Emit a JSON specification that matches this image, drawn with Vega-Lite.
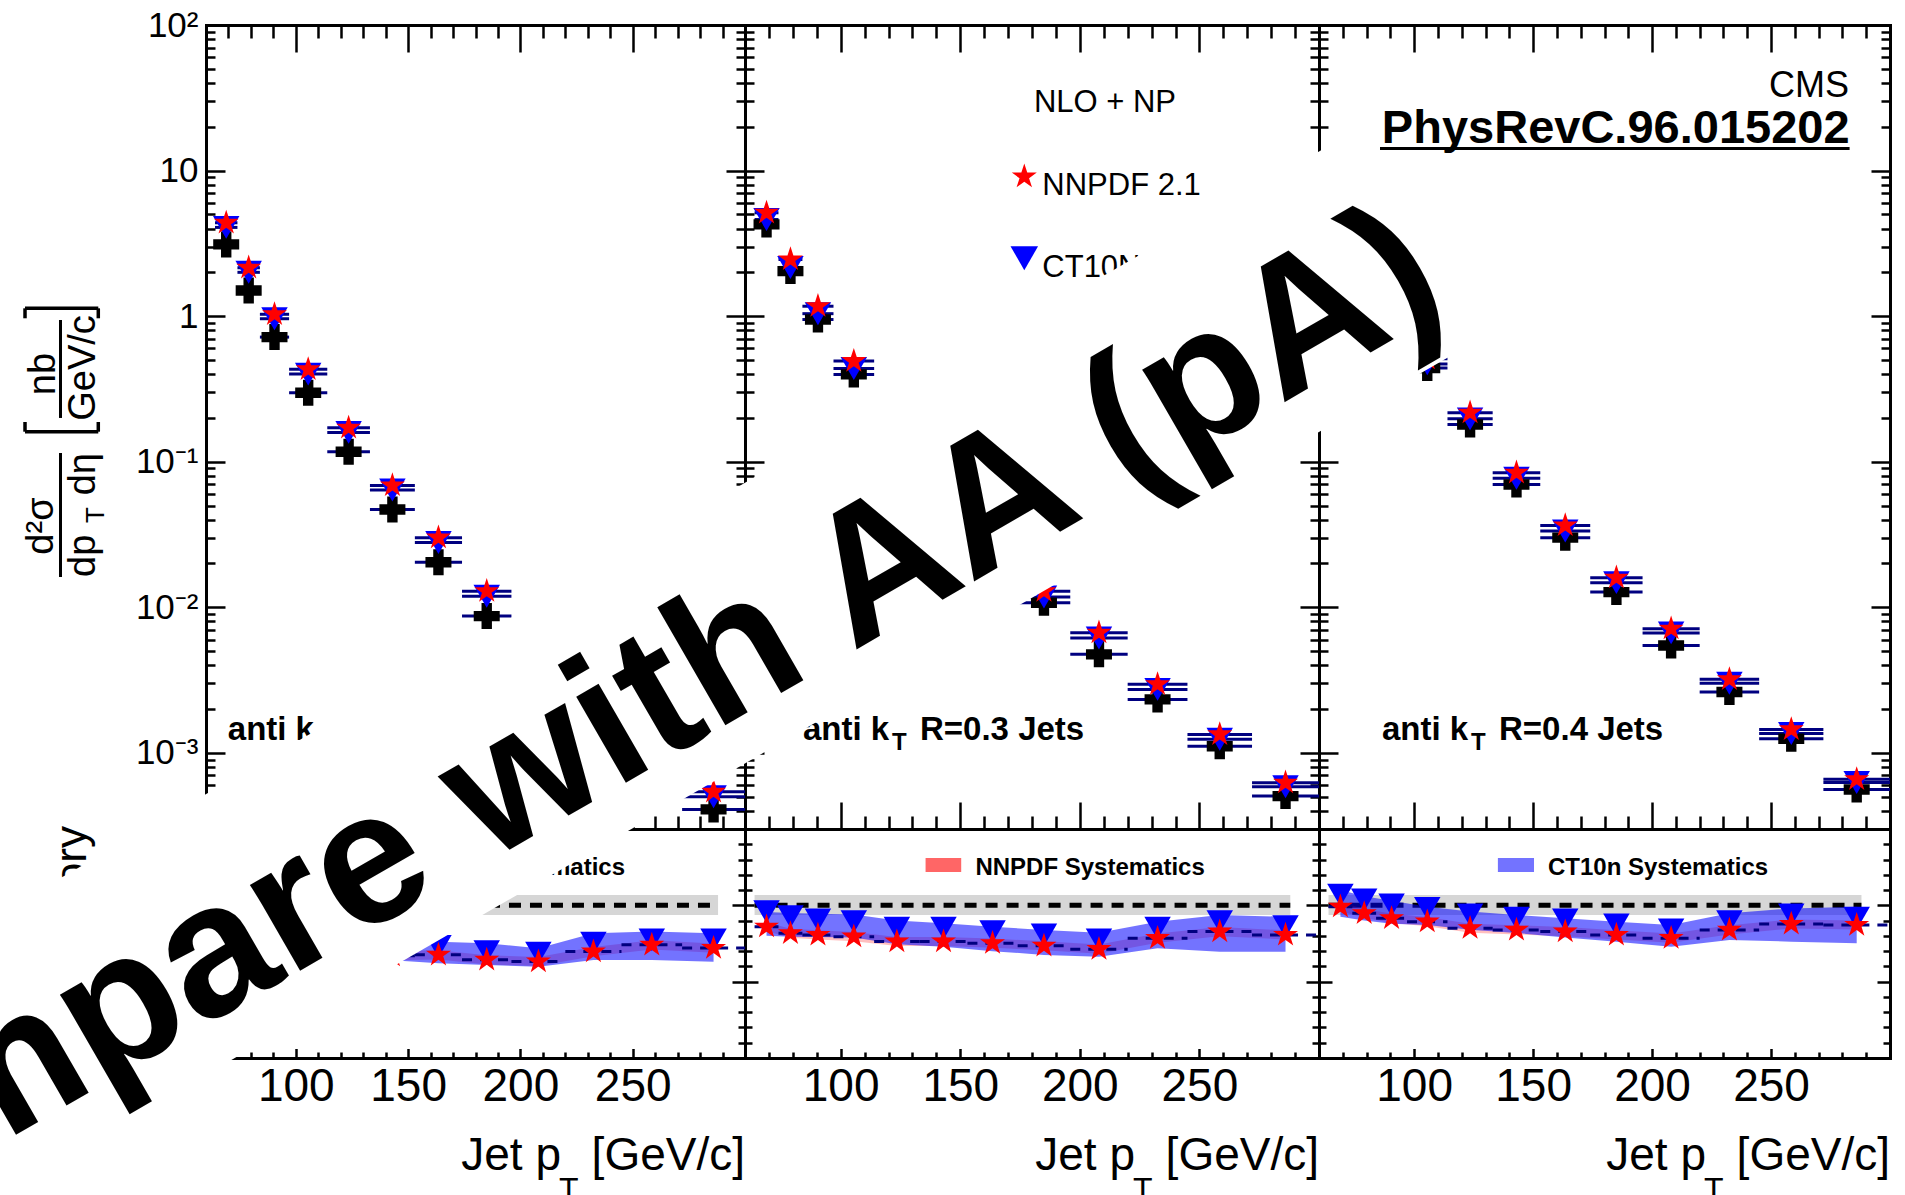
{
"$schema": "https://vega.github.io/schema/vega-lite/v6.json",
"width": 1905, "height": 1195,
"autosize": {"type": "none"},
"padding": 0,
"background": "white",
"config": {
  "view": {"stroke": null},
  "axis": {"grid": false, "domain": true, "ticks": true, "domainColor": "black", "domainWidth": 3, "domainCap": "square", "tickColor": "black", "tickWidth": 2.5, "labelFont": "Liberation Sans", "labelColor": "black", "labelOverlap": false, "labelFlush": false},
  "text": {"font": "Liberation Sans", "color": "black"}
},
"datasets": {
  "pts": [
    {"p":1,"pt":69,"lo":64,"hi":74,"data":3.11,"nn":4.38,"ct":4.07},
    {"p":1,"pt":79,"lo":74,"hi":84,"data":1.50,"nn":2.15,"ct":2.00},
    {"p":1,"pt":90.5,"lo":84,"hi":97,"data":0.718,"nn":1.03,"ct":0.96},
    {"p":1,"pt":105.5,"lo":97,"hi":114,"data":0.298,"nn":0.431,"ct":0.40},
    {"p":1,"pt":123.5,"lo":114,"hi":133,"data":0.117,"nn":0.171,"ct":0.159},
    {"p":1,"pt":143,"lo":133,"hi":153,"data":0.047,"nn":0.0687,"ct":0.064},
    {"p":1,"pt":163.5,"lo":153,"hi":174,"data":0.0204,"nn":0.0301,"ct":0.0279},
    {"p":1,"pt":185,"lo":174,"hi":196,"data":0.0087,"nn":0.0129,"ct":0.0119},
    {"p":1,"pt":286,"lo":272,"hi":300,"data":0.000409,"nn":0.00054,"ct":0.0005},
    {"p":2,"pt":69,"lo":64,"hi":74,"data":4.27,"nn":5.13,"ct":4.61},
    {"p":2,"pt":79,"lo":74,"hi":84,"data":2.04,"nn":2.45,"ct":2.16},
    {"p":2,"pt":90.5,"lo":84,"hi":97,"data":0.948,"nn":1.17,"ct":1.04},
    {"p":2,"pt":105.5,"lo":97,"hi":114,"data":0.398,"nn":0.491,"ct":0.437},
    {"p":2,"pt":185,"lo":174,"hi":196,"data":0.01075,"nn":0.0129,"ct":0.01177},
    {"p":2,"pt":208,"lo":196,"hi":220,"data":0.00475,"nn":0.00669,"ct":0.00616},
    {"p":2,"pt":232.5,"lo":220,"hi":245,"data":0.00233,"nn":0.00296,"ct":0.00273},
    {"p":2,"pt":258.5,"lo":245,"hi":272,"data":0.00111,"nn":0.00134,"ct":0.00124},
    {"p":2,"pt":286,"lo":272,"hi":300,"data":0.000505,"nn":0.000624,"ct":0.000585},
    {"p":3,"pt":105.5,"lo":97,"hi":114,"data":0.44,"nn":0.51,"ct":0.47},
    {"p":3,"pt":123.5,"lo":114,"hi":133,"data":0.180,"nn":0.217,"ct":0.197},
    {"p":3,"pt":143,"lo":133,"hi":153,"data":0.0698,"nn":0.084,"ct":0.077},
    {"p":3,"pt":163.5,"lo":153,"hi":174,"data":0.0301,"nn":0.0365,"ct":0.0334},
    {"p":3,"pt":185,"lo":174,"hi":196,"data":0.01272,"nn":0.01596,"ct":0.01477},
    {"p":3,"pt":208,"lo":196,"hi":220,"data":0.00547,"nn":0.00713,"ct":0.00667},
    {"p":3,"pt":232.5,"lo":220,"hi":245,"data":0.00262,"nn":0.0032,"ct":0.00301},
    {"p":3,"pt":258.5,"lo":245,"hi":272,"data":0.00125,"nn":0.00145,"ct":0.00136},
    {"p":3,"pt":286,"lo":272,"hi":300,"data":0.000561,"nn":0.000658,"ct":0.000626}
  ],
  "rat": [
    {"p":1,"pt":143,"lo":133,"hi":153,"rn":0.67,"rc":0.72,"cLo":0.64,"cHi":0.74,"nLo":0.64,"nHi":0.70},
    {"p":1,"pt":163.5,"lo":153,"hi":174,"rn":0.676,"rc":0.73,"cLo":0.62,"cHi":0.762,"nLo":0.646,"nHi":0.706},
    {"p":1,"pt":185,"lo":174,"hi":196,"rn":0.643,"rc":0.697,"cLo":0.609,"cHi":0.752,"nLo":0.613,"nHi":0.673},
    {"p":1,"pt":208,"lo":196,"hi":220,"rn":0.632,"rc":0.687,"cLo":0.598,"cHi":0.719,"nLo":0.602,"nHi":0.662},
    {"p":1,"pt":232.5,"lo":220,"hi":245,"rn":0.697,"rc":0.752,"cLo":0.642,"cHi":0.817,"nLo":0.667,"nHi":0.727},
    {"p":1,"pt":258.5,"lo":245,"hi":272,"rn":0.741,"rc":0.774,"cLo":0.642,"cHi":0.828,"nLo":0.711,"nHi":0.771},
    {"p":1,"pt":286,"lo":272,"hi":300,"rn":0.72,"rc":0.774,"cLo":0.631,"cHi":0.817,"nLo":0.69,"nHi":0.75},
    {"p":2,"pt":69,"lo":64,"hi":74,"rn":0.86,"rc":0.958,"cLo":0.80,"cHi":0.956,"nLo":0.83,"nHi":0.89},
    {"p":2,"pt":79,"lo":74,"hi":84,"rn":0.817,"rc":0.926,"cLo":0.795,"cHi":0.95,"nLo":0.787,"nHi":0.847},
    {"p":2,"pt":90.5,"lo":84,"hi":97,"rn":0.806,"rc":0.904,"cLo":0.793,"cHi":0.945,"nLo":0.776,"nHi":0.836},
    {"p":2,"pt":105.5,"lo":97,"hi":114,"rn":0.795,"rc":0.893,"cLo":0.79,"cHi":0.94,"nLo":0.765,"nHi":0.825},
    {"p":2,"pt":123.5,"lo":114,"hi":133,"rn":0.763,"rc":0.85,"cLo":0.745,"cHi":0.90,"nLo":0.733,"nHi":0.793},
    {"p":2,"pt":143,"lo":133,"hi":153,"rn":0.763,"rc":0.85,"cLo":0.729,"cHi":0.883,"nLo":0.733,"nHi":0.793},
    {"p":2,"pt":163.5,"lo":153,"hi":174,"rn":0.752,"rc":0.828,"cLo":0.70,"cHi":0.86,"nLo":0.722,"nHi":0.782},
    {"p":2,"pt":185,"lo":174,"hi":196,"rn":0.735,"rc":0.806,"cLo":0.675,"cHi":0.838,"nLo":0.705,"nHi":0.765},
    {"p":2,"pt":208,"lo":196,"hi":220,"rn":0.713,"rc":0.774,"cLo":0.664,"cHi":0.82,"nLo":0.683,"nHi":0.743},
    {"p":2,"pt":232.5,"lo":220,"hi":245,"rn":0.785,"rc":0.85,"cLo":0.719,"cHi":0.893,"nLo":0.755,"nHi":0.815},
    {"p":2,"pt":258.5,"lo":245,"hi":272,"rn":0.828,"rc":0.893,"cLo":0.696,"cHi":0.937,"nLo":0.798,"nHi":0.858},
    {"p":2,"pt":286,"lo":272,"hi":300,"rn":0.806,"rc":0.86,"cLo":0.696,"cHi":0.925,"nLo":0.776,"nHi":0.836},
    {"p":3,"pt":69,"lo":64,"hi":74,"rn":0.991,"rc":1.067,"cLo":0.925,"cHi":1.10,"nLo":0.961,"nHi":1.021},
    {"p":3,"pt":79,"lo":74,"hi":84,"rn":0.948,"rc":1.035,"cLo":0.90,"cHi":1.06,"nLo":0.918,"nHi":0.978},
    {"p":3,"pt":90.5,"lo":84,"hi":97,"rn":0.915,"rc":1.002,"cLo":0.88,"cHi":1.03,"nLo":0.885,"nHi":0.945},
    {"p":3,"pt":105.5,"lo":97,"hi":114,"rn":0.893,"rc":0.98,"cLo":0.871,"cHi":0.99,"nLo":0.863,"nHi":0.923},
    {"p":3,"pt":123.5,"lo":114,"hi":133,"rn":0.85,"rc":0.937,"cLo":0.84,"cHi":0.96,"nLo":0.82,"nHi":0.88},
    {"p":3,"pt":143,"lo":133,"hi":153,"rn":0.839,"rc":0.915,"cLo":0.819,"cHi":0.937,"nLo":0.809,"nHi":0.869},
    {"p":3,"pt":163.5,"lo":153,"hi":174,"rn":0.828,"rc":0.904,"cLo":0.79,"cHi":0.915,"nLo":0.798,"nHi":0.858},
    {"p":3,"pt":185,"lo":174,"hi":196,"rn":0.806,"rc":0.871,"cLo":0.762,"cHi":0.893,"nLo":0.776,"nHi":0.836},
    {"p":3,"pt":208,"lo":196,"hi":220,"rn":0.785,"rc":0.839,"cLo":0.729,"cHi":0.871,"nLo":0.755,"nHi":0.815},
    {"p":3,"pt":232.5,"lo":220,"hi":245,"rn":0.839,"rc":0.893,"cLo":0.773,"cHi":0.948,"nLo":0.809,"nHi":0.869},
    {"p":3,"pt":258.5,"lo":245,"hi":272,"rn":0.878,"rc":0.937,"cLo":0.762,"cHi":0.98,"nLo":0.848,"nHi":0.908},
    {"p":3,"pt":286,"lo":272,"hi":300,"rn":0.871,"rc":0.915,"cLo":0.751,"cHi":0.991,"nLo":0.841,"nHi":0.901}
  ],
  "ref": [
    {"p":1,"pt":64,"lo":0.937,"hi":1.068,"r":1},{"p":1,"pt":288,"lo":0.937,"hi":1.068,"r":1},
    {"p":2,"pt":64,"lo":0.937,"hi":1.068,"r":1},{"p":2,"pt":288,"lo":0.937,"hi":1.068,"r":1},
    {"p":3,"pt":64,"lo":0.937,"hi":1.068,"r":1},{"p":3,"pt":288,"lo":0.937,"hi":1.068,"r":1}
  ]
},
"layer": [
{
 "data": {"name": "pts"},
 "layer": [
  {"transform": [{"filter": "datum.p == 1"}], "mark": {"type": "rule", "color": "#000080", "strokeWidth": 3},
   "encoding": {
    "x": {"field": "lo", "type": "quantitative", "scale": {"domain": [60, 300], "range": [206, 745], "nice": false, "zero": false},
          "axis": {"orient": "bottom", "offset": -366, "values": [70,80,90,100,110,120,130,140,150,160,170,180,190,200,210,220,230,240,250,260,270,280,290], "tickSize": {"condition": {"test": "datum.value % 50 == 0", "value": -27}, "value": -13}, "labels": false, "title": null}},
    "x2": {"field": "hi"},
    "y": {"field": "nn", "type": "quantitative", "scale": {"type": "log", "domain": [0.0003, 100], "range": [829, 25], "nice": false},
          "axis": {"orient": "left", "offset": -206, "values": [0.0004,0.0005,0.0006,0.0007,0.0008,0.0009,0.001,0.002,0.003,0.004,0.005,0.006,0.007,0.008,0.009,0.01,0.02,0.03,0.04,0.05,0.06,0.07,0.08,0.09,0.1,0.2,0.3,0.4,0.5,0.6,0.7,0.8,0.9,1,2,3,4,5,6,7,8,9,10,20,30,40,50,60,70,80,90,100], "tickSize": {"condition": {"test": "abs(log(datum.value)/LN10 - round(log(datum.value)/LN10)) < 0.01", "value": -19}, "value": -9}, "labelExpr": "abs(log(datum.value)/LN10 - round(log(datum.value)/LN10)) < 0.01 ? (round(log(datum.value)/LN10) == 2 ? '10²' : round(log(datum.value)/LN10) == 1 ? '10' : round(log(datum.value)/LN10) == 0 ? '1' : round(log(datum.value)/LN10) == -1 ? '10⁻¹' : round(log(datum.value)/LN10) == -2 ? '10⁻²' : '10⁻³') : ''", "labelFontSize": 35, "labelPadding": 27, "labelBaseline": "middle", "title": null}}
   }},
  {"transform": [{"filter": "datum.p == 1"}], "mark": {"type": "rule", "color": "#000080", "strokeWidth": 3},
   "encoding": {
    "x": {"field": "lo", "type": "quantitative", "axis": {"orient": "top", "offset": -25, "values": [70,80,90,100,110,120,130,140,150,160,170,180,190,200,210,220,230,240,250,260,270,280,290], "tickSize": {"condition": {"test": "datum.value % 50 == 0", "value": -27}, "value": -13}, "labels": false, "title": null}},
    "x2": {"field": "hi"},
    "y": {"field": "ct", "type": "quantitative", "axis": {"orient": "right", "offset": -1160, "values": [0.0004,0.0005,0.0006,0.0007,0.0008,0.0009,0.001,0.002,0.003,0.004,0.005,0.006,0.007,0.008,0.009,0.01,0.02,0.03,0.04,0.05,0.06,0.07,0.08,0.09,0.1,0.2,0.3,0.4,0.5,0.6,0.7,0.8,0.9,1,2,3,4,5,6,7,8,9,10,20,30,40,50,60,70,80,90,100], "tickSize": {"condition": {"test": "abs(log(datum.value)/LN10 - round(log(datum.value)/LN10)) < 0.01", "value": -19}, "value": -9}, "labels": false, "title": null}}
   }},
  {"transform": [{"filter": "datum.p == 1"}], "mark": {"type": "rule", "color": "#000080", "strokeWidth": 3},
   "encoding": {"x": {"field": "lo", "type": "quantitative", "axis": null}, "x2": {"field": "hi"}, "y": {"field": "data", "type": "quantitative", "axis": null}}},
  {"transform": [{"filter": "datum.p == 1"}], "mark": {"type": "point", "shape": "cross", "filled": true, "color": "black", "size": 676, "opacity": 1},
   "encoding": {"x": {"field": "pt", "type": "quantitative", "axis": null}, "y": {"field": "data", "type": "quantitative", "axis": null}}},
  {"transform": [{"filter": "datum.p == 1"}], "mark": {"type": "point", "shape": "triangle-down", "filled": true, "color": "#0000ff", "size": 700, "opacity": 1},
   "encoding": {"x": {"field": "pt", "type": "quantitative", "axis": null}, "y": {"field": "ct", "type": "quantitative", "axis": null}}},
  {"transform": [{"filter": "datum.p == 1"}], "mark": {"type": "point", "shape": "M0,-1L0.2245,-0.309L0.9511,-0.309L0.3633,0.118L0.5878,0.809L0,0.382L-0.5878,0.809L-0.3633,0.118L-0.9511,-0.309L-0.2245,-0.309Z", "filled": true, "color": "#ff0000", "size": 690, "opacity": 1},
   "encoding": {"x": {"field": "pt", "type": "quantitative", "axis": null}, "y": {"field": "nn", "type": "quantitative", "axis": null}}},
  {"data": {"values": [{"p": 1}]}, "mark": {"type": "text", "text": "d²σ", "fontSize": 38, "align": "center", "baseline": "alphabetic", "angle": -90},
   "encoding": {"x": {"datum": -8.13, "axis": null}, "y": {"datum": 0.03618, "axis": null}}},
  {"data": {"values": [{"p": 1}]}, "mark": {"type": "rule", "color": "black", "strokeWidth": 3},
   "encoding": {"x": {"datum": -4.79, "axis": null}, "y": {"datum": 0.1148, "axis": null}, "y2": {"datum": 0.01615}}},
  {"data": {"values": [{"p": 1}]}, "mark": {"type": "text", "text": "dp", "fontSize": 38, "align": "left", "baseline": "alphabetic", "angle": -90},
   "encoding": {"x": {"datum": 10.57, "axis": null}, "y": {"datum": 0.01615, "axis": null}}},
  {"data": {"values": [{"p": 1}]}, "mark": {"type": "text", "text": "T", "fontSize": 26, "align": "center", "baseline": "alphabetic", "angle": -90},
   "encoding": {"x": {"datum": 14.58, "axis": null}, "y": {"datum": 0.04306, "axis": null}}},
  {"data": {"values": [{"p": 1}]}, "mark": {"type": "text", "text": "dη", "fontSize": 38, "align": "right", "baseline": "alphabetic", "angle": -90},
   "encoding": {"x": {"datum": 10.57, "axis": null}, "y": {"datum": 0.1148, "axis": null}}},
  {"data": {"values": [{"p": 1}]}, "mark": {"type": "text", "text": "nb", "fontSize": 38, "align": "center", "baseline": "alphabetic", "angle": -90},
   "encoding": {"x": {"datum": -7.24, "axis": null}, "y": {"datum": 0.4006, "axis": null}}},
  {"data": {"values": [{"p": 1}]}, "mark": {"type": "rule", "color": "black", "strokeWidth": 3},
   "encoding": {"x": {"datum": -4.79, "axis": null}, "y": {"datum": 0.941, "axis": null}, "y2": {"datum": 0.1998}}},
  {"data": {"values": [{"p": 1}]}, "mark": {"type": "text", "text": "GeV/c", "fontSize": 38, "align": "center", "baseline": "alphabetic", "angle": -90},
   "encoding": {"x": {"datum": 10.57, "axis": null}, "y": {"datum": 0.4405, "axis": null}}},
  {"data": {"values": [{"p": 1}]}, "mark": {"type": "rule", "color": "black", "strokeWidth": 3.5},
   "encoding": {"x": {"datum": -20.59, "axis": null}, "x2": {"datum": 12.04}, "y": {"datum": 1.132, "axis": null}}},
  {"data": {"values": [{"p": 1}]}, "mark": {"type": "rule", "color": "black", "strokeWidth": 3.5},
   "encoding": {"x": {"datum": -20.59, "axis": null}, "y": {"datum": 1.132, "axis": null}, "y2": {"datum": 0.9667}}},
  {"data": {"values": [{"p": 1}]}, "mark": {"type": "rule", "color": "black", "strokeWidth": 3.5},
   "encoding": {"x": {"datum": 12.04, "axis": null}, "y": {"datum": 1.132, "axis": null}, "y2": {"datum": 0.9667}}},
  {"data": {"values": [{"p": 1}]}, "mark": {"type": "rule", "color": "black", "strokeWidth": 3.5},
   "encoding": {"x": {"datum": -20.59, "axis": null}, "x2": {"datum": 12.04}, "y": {"datum": 0.1608, "axis": null}}},
  {"data": {"values": [{"p": 1}]}, "mark": {"type": "rule", "color": "black", "strokeWidth": 3.5},
   "encoding": {"x": {"datum": -20.59, "axis": null}, "y": {"datum": 0.1608, "axis": null}, "y2": {"datum": 0.1875}}},
  {"data": {"values": [{"p": 1}]}, "mark": {"type": "rule", "color": "black", "strokeWidth": 3.5},
   "encoding": {"x": {"datum": 12.04, "axis": null}, "y": {"datum": 0.1608, "axis": null}, "y2": {"datum": 0.1875}}},
  {"data": {"values": [{"p": 1}]}, "mark": {"type": "text", "text": "anti k", "fontSize": 33, "fontWeight": "bold", "align": "left", "baseline": "alphabetic"},
   "encoding": {"x": {"datum": 69.7, "axis": null}, "y": {"datum": 0.001226, "axis": null}}},
  {"data": {"values": [{"p": 1}]}, "mark": {"type": "text", "text": "T", "fontSize": 24, "fontWeight": "bold", "align": "left", "baseline": "alphabetic"},
   "encoding": {"x": {"datum": 109.34, "axis": null}, "y": {"datum": 0.001047, "axis": null}}},
  {"data": {"values": [{"p": 1}]}, "mark": {"type": "text", "text": "R=0.2 Jets", "fontSize": 33, "fontWeight": "bold", "align": "left", "baseline": "alphabetic"},
   "encoding": {"x": {"datum": 121.8, "axis": null}, "y": {"datum": 0.001226, "axis": null}}}
 ],
 "resolve": {"axis": {"x": "independent", "y": "independent"}}
},
{
 "data": {"name": "pts"},
 "layer": [
  {"transform": [{"filter": "datum.p == 2"}], "mark": {"type": "rule", "color": "#000080", "strokeWidth": 3},
   "encoding": {
    "x": {"field": "lo", "type": "quantitative", "scale": {"domain": [60, 300], "range": [745, 1319], "nice": false, "zero": false},
          "axis": {"orient": "bottom", "offset": -366, "values": [70,80,90,100,110,120,130,140,150,160,170,180,190,200,210,220,230,240,250,260,270,280,290], "tickSize": {"condition": {"test": "datum.value % 50 == 0", "value": -27}, "value": -13}, "labels": false, "title": null}},
    "x2": {"field": "hi"},
    "y": {"field": "nn", "type": "quantitative", "scale": {"type": "log", "domain": [0.0003, 100], "range": [829, 25], "nice": false},
          "axis": {"orient": "left", "offset": -745, "values": [0.0004,0.0005,0.0006,0.0007,0.0008,0.0009,0.001,0.002,0.003,0.004,0.005,0.006,0.007,0.008,0.009,0.01,0.02,0.03,0.04,0.05,0.06,0.07,0.08,0.09,0.1,0.2,0.3,0.4,0.5,0.6,0.7,0.8,0.9,1,2,3,4,5,6,7,8,9,10,20,30,40,50,60,70,80,90,100], "tickSize": {"condition": {"test": "abs(log(datum.value)/LN10 - round(log(datum.value)/LN10)) < 0.01", "value": -19}, "value": -9}, "labels": false, "title": null}}
   }},
  {"transform": [{"filter": "datum.p == 2"}], "mark": {"type": "rule", "color": "#000080", "strokeWidth": 3},
   "encoding": {
    "x": {"field": "lo", "type": "quantitative", "axis": {"orient": "top", "offset": -25, "values": [70,80,90,100,110,120,130,140,150,160,170,180,190,200,210,220,230,240,250,260,270,280,290], "tickSize": {"condition": {"test": "datum.value % 50 == 0", "value": -27}, "value": -13}, "labels": false, "title": null}},
    "x2": {"field": "hi"},
    "y": {"field": "ct", "type": "quantitative", "axis": {"orient": "right", "offset": -586, "values": [0.0004,0.0005,0.0006,0.0007,0.0008,0.0009,0.001,0.002,0.003,0.004,0.005,0.006,0.007,0.008,0.009,0.01,0.02,0.03,0.04,0.05,0.06,0.07,0.08,0.09,0.1,0.2,0.3,0.4,0.5,0.6,0.7,0.8,0.9,1,2,3,4,5,6,7,8,9,10,20,30,40,50,60,70,80,90,100], "tickSize": {"condition": {"test": "abs(log(datum.value)/LN10 - round(log(datum.value)/LN10)) < 0.01", "value": -19}, "value": -9}, "labels": false, "title": null}}
   }},
  {"transform": [{"filter": "datum.p == 2"}], "mark": {"type": "rule", "color": "#000080", "strokeWidth": 3},
   "encoding": {"x": {"field": "lo", "type": "quantitative", "axis": null}, "x2": {"field": "hi"}, "y": {"field": "data", "type": "quantitative", "axis": null}}},
  {"transform": [{"filter": "datum.p == 2"}], "mark": {"type": "point", "shape": "cross", "filled": true, "color": "black", "size": 676, "opacity": 1},
   "encoding": {"x": {"field": "pt", "type": "quantitative", "axis": null}, "y": {"field": "data", "type": "quantitative", "axis": null}}},
  {"transform": [{"filter": "datum.p == 2"}], "mark": {"type": "point", "shape": "triangle-down", "filled": true, "color": "#0000ff", "size": 700, "opacity": 1},
   "encoding": {"x": {"field": "pt", "type": "quantitative", "axis": null}, "y": {"field": "ct", "type": "quantitative", "axis": null}}},
  {"transform": [{"filter": "datum.p == 2"}], "mark": {"type": "point", "shape": "M0,-1L0.2245,-0.309L0.9511,-0.309L0.3633,0.118L0.5878,0.809L0,0.382L-0.5878,0.809L-0.3633,0.118L-0.9511,-0.309L-0.2245,-0.309Z", "filled": true, "color": "#ff0000", "size": 690, "opacity": 1},
   "encoding": {"x": {"field": "pt", "type": "quantitative", "axis": null}, "y": {"field": "nn", "type": "quantitative", "axis": null}}},
  {"data": {"values": [{"p": 2}]}, "mark": {"type": "text", "text": "NLO + NP", "fontSize": 31, "align": "left", "baseline": "alphabetic"},
   "encoding": {"x": {"datum": 180.8, "axis": null}, "y": {"datum": 25.4, "axis": null}}},
  {"data": {"values": [{"p": 2}]}, "mark": {"type": "point", "shape": "M0,-1L0.2245,-0.309L0.9511,-0.309L0.3633,0.118L0.5878,0.809L0,0.382L-0.5878,0.809L-0.3633,0.118L-0.9511,-0.309L-0.2245,-0.309Z", "filled": true, "color": "#ff0000", "size": 690, "opacity": 1},
   "encoding": {"x": {"datum": 176.78, "axis": null}, "y": {"datum": 9.08, "axis": null}}},
  {"data": {"values": [{"p": 2}]}, "mark": {"type": "text", "text": "NNPDF 2.1", "fontSize": 31, "align": "left", "baseline": "alphabetic"},
   "encoding": {"x": {"datum": 184.31, "axis": null}, "y": {"datum": 6.8, "axis": null}}},
  {"data": {"values": [{"p": 2}]}, "mark": {"type": "point", "shape": "triangle-down", "filled": true, "color": "#0000ff", "size": 760, "opacity": 1},
   "encoding": {"x": {"datum": 176.78, "axis": null}, "y": {"datum": 2.5, "axis": null}}},
  {"data": {"values": [{"p": 2}]}, "mark": {"type": "text", "text": "CT10NLO", "fontSize": 31, "align": "left", "baseline": "alphabetic"},
   "encoding": {"x": {"datum": 184.31, "axis": null}, "y": {"datum": 1.866, "axis": null}}},
  {"data": {"values": [{"p": 2}]}, "mark": {"type": "text", "text": "anti k", "fontSize": 33, "fontWeight": "bold", "align": "left", "baseline": "alphabetic"},
   "encoding": {"x": {"datum": 84.25, "axis": null}, "y": {"datum": 0.001226, "axis": null}}},
  {"data": {"values": [{"p": 2}]}, "mark": {"type": "text", "text": "T", "fontSize": 24, "fontWeight": "bold", "align": "left", "baseline": "alphabetic"},
   "encoding": {"x": {"datum": 121.46, "axis": null}, "y": {"datum": 0.001047, "axis": null}}},
  {"data": {"values": [{"p": 2}]}, "mark": {"type": "text", "text": "R=0.3 Jets", "fontSize": 33, "fontWeight": "bold", "align": "left", "baseline": "alphabetic"},
   "encoding": {"x": {"datum": 133.17, "axis": null}, "y": {"datum": 0.001226, "axis": null}}}
 ],
 "resolve": {"axis": {"x": "independent", "y": "independent"}}
},
{
 "data": {"name": "pts"},
 "layer": [
  {"transform": [{"filter": "datum.p == 3"}], "mark": {"type": "rule", "color": "#000080", "strokeWidth": 3},
   "encoding": {
    "x": {"field": "lo", "type": "quantitative", "scale": {"domain": [60, 300], "range": [1319, 1890], "nice": false, "zero": false},
          "axis": {"orient": "bottom", "offset": -366, "values": [70,80,90,100,110,120,130,140,150,160,170,180,190,200,210,220,230,240,250,260,270,280,290], "tickSize": {"condition": {"test": "datum.value % 50 == 0", "value": -27}, "value": -13}, "labels": false, "title": null}},
    "x2": {"field": "hi"},
    "y": {"field": "nn", "type": "quantitative", "scale": {"type": "log", "domain": [0.0003, 100], "range": [829, 25], "nice": false},
          "axis": {"orient": "left", "offset": -1319, "values": [0.0004,0.0005,0.0006,0.0007,0.0008,0.0009,0.001,0.002,0.003,0.004,0.005,0.006,0.007,0.008,0.009,0.01,0.02,0.03,0.04,0.05,0.06,0.07,0.08,0.09,0.1,0.2,0.3,0.4,0.5,0.6,0.7,0.8,0.9,1,2,3,4,5,6,7,8,9,10,20,30,40,50,60,70,80,90,100], "tickSize": {"condition": {"test": "abs(log(datum.value)/LN10 - round(log(datum.value)/LN10)) < 0.01", "value": -19}, "value": -9}, "labels": false, "title": null}}
   }},
  {"transform": [{"filter": "datum.p == 3"}], "mark": {"type": "rule", "color": "#000080", "strokeWidth": 3},
   "encoding": {
    "x": {"field": "lo", "type": "quantitative", "axis": {"orient": "top", "offset": -25, "values": [70,80,90,100,110,120,130,140,150,160,170,180,190,200,210,220,230,240,250,260,270,280,290], "tickSize": {"condition": {"test": "datum.value % 50 == 0", "value": -27}, "value": -13}, "labels": false, "title": null}},
    "x2": {"field": "hi"},
    "y": {"field": "ct", "type": "quantitative", "axis": {"orient": "right", "offset": -15, "values": [0.0004,0.0005,0.0006,0.0007,0.0008,0.0009,0.001,0.002,0.003,0.004,0.005,0.006,0.007,0.008,0.009,0.01,0.02,0.03,0.04,0.05,0.06,0.07,0.08,0.09,0.1,0.2,0.3,0.4,0.5,0.6,0.7,0.8,0.9,1,2,3,4,5,6,7,8,9,10,20,30,40,50,60,70,80,90,100], "tickSize": {"condition": {"test": "abs(log(datum.value)/LN10 - round(log(datum.value)/LN10)) < 0.01", "value": -19}, "value": -9}, "labels": false, "title": null}}
   }},
  {"transform": [{"filter": "datum.p == 3"}], "mark": {"type": "rule", "color": "#000080", "strokeWidth": 3},
   "encoding": {"x": {"field": "lo", "type": "quantitative", "axis": null}, "x2": {"field": "hi"}, "y": {"field": "data", "type": "quantitative", "axis": null}}},
  {"transform": [{"filter": "datum.p == 3"}], "mark": {"type": "point", "shape": "cross", "filled": true, "color": "black", "size": 676, "opacity": 1},
   "encoding": {"x": {"field": "pt", "type": "quantitative", "axis": null}, "y": {"field": "data", "type": "quantitative", "axis": null}}},
  {"transform": [{"filter": "datum.p == 3"}], "mark": {"type": "point", "shape": "triangle-down", "filled": true, "color": "#0000ff", "size": 700, "opacity": 1},
   "encoding": {"x": {"field": "pt", "type": "quantitative", "axis": null}, "y": {"field": "ct", "type": "quantitative", "axis": null}}},
  {"transform": [{"filter": "datum.p == 3"}], "mark": {"type": "point", "shape": "M0,-1L0.2245,-0.309L0.9511,-0.309L0.3633,0.118L0.5878,0.809L0,0.382L-0.5878,0.809L-0.3633,0.118L-0.9511,-0.309L-0.2245,-0.309Z", "filled": true, "color": "#ff0000", "size": 690, "opacity": 1},
   "encoding": {"x": {"field": "pt", "type": "quantitative", "axis": null}, "y": {"field": "nn", "type": "quantitative", "axis": null}}},
  {"data": {"values": [{"p": 3}]}, "mark": {"type": "text", "text": "CMS", "fontSize": 36, "align": "right", "baseline": "alphabetic"},
   "encoding": {"x": {"datum": 282.77, "axis": null}, "y": {"datum": 32.2, "axis": null}}},
  {"data": {"values": [{"p": 3}]}, "mark": {"type": "text", "text": "PhysRevC.96.015202", "fontSize": 47, "fontWeight": "bold", "align": "right", "baseline": "alphabetic"},
   "encoding": {"x": {"datum": 283.02, "axis": null}, "y": {"datum": 15.39, "axis": null}}},
  {"data": {"values": [{"p": 3}]}, "mark": {"type": "rule", "color": "black", "strokeWidth": 3},
   "encoding": {"x": {"datum": 85.64, "axis": null}, "x2": {"datum": 283.02}, "y": {"datum": 14.18, "axis": null}}},
  {"data": {"values": [{"p": 3}]}, "mark": {"type": "text", "text": "anti k", "fontSize": 33, "fontWeight": "bold", "align": "left", "baseline": "alphabetic"},
   "encoding": {"x": {"datum": 86.48, "axis": null}, "y": {"datum": 0.001226, "axis": null}}},
  {"data": {"values": [{"p": 3}]}, "mark": {"type": "text", "text": "T", "fontSize": 24, "fontWeight": "bold", "align": "left", "baseline": "alphabetic"},
   "encoding": {"x": {"datum": 123.89, "axis": null}, "y": {"datum": 0.001047, "axis": null}}},
  {"data": {"values": [{"p": 3}]}, "mark": {"type": "text", "text": "R=0.4 Jets", "fontSize": 33, "fontWeight": "bold", "align": "left", "baseline": "alphabetic"},
   "encoding": {"x": {"datum": 135.66, "axis": null}, "y": {"datum": 0.001226, "axis": null}}}
 ],
 "resolve": {"axis": {"x": "independent", "y": "independent"}}
},
{
 "data": {"name": "rat"},
 "layer": [
  {"data": {"name": "ref"}, "transform": [{"filter": "datum.p == 1"}], "mark": {"type": "area", "color": "#d6d6d6", "opacity": 1},
   "encoding": {
    "x": {"field": "pt", "type": "quantitative", "scale": {"domain": [60, 300], "range": [206, 745], "nice": false, "zero": false},
          "axis": {"orient": "bottom", "offset": -137, "values": [70,80,90,100,110,120,130,140,150,160,170,180,190,200,210,220,230,240,250,260,270,280,290], "tickSize": {"condition": {"test": "datum.value % 50 == 0", "value": -9.5}, "value": -6}, "labelExpr": "datum.value % 50 == 0 ? datum.label : ''", "labelFontSize": 46, "labelBaseline": "top", "labelPadding": 16, "title": null}},
    "y": {"field": "lo", "type": "quantitative", "scale": {"domain": [0, 1.5], "range": [1058, 829], "nice": false, "zero": false},
          "axis": {"orient": "left", "offset": -206, "values": [0.1,0.2,0.3,0.4,0.5,0.6,0.7,0.8,0.9,1,1.1,1.2,1.3,1.4], "tickSize": {"condition": {"test": "abs(datum.value*2 - round(datum.value*2)) < 0.001", "value": -13}, "value": -7}, "labels": false, "title": null}},
    "y2": {"field": "hi"}
   }},
  {"data": {"name": "ref"}, "transform": [{"filter": "datum.p == 1"}], "mark": {"type": "line", "color": "black", "strokeWidth": 5, "strokeDash": [12, 9]},
   "encoding": {
    "x": {"field": "pt", "type": "quantitative", "axis": null},
    "y": {"field": "r", "type": "quantitative", "axis": {"orient": "right", "offset": -1160, "values": [0.1,0.2,0.3,0.4,0.5,0.6,0.7,0.8,0.9,1,1.1,1.2,1.3,1.4], "tickSize": {"condition": {"test": "abs(datum.value*2 - round(datum.value*2)) < 0.001", "value": -13}, "value": -7}, "labels": false, "title": null}}
   }},
  {"transform": [{"filter": "datum.p == 1"}], "mark": {"type": "area", "color": "#ff0000", "opacity": 0.25},
   "encoding": {"x": {"field": "pt", "type": "quantitative", "axis": null}, "y": {"field": "nLo", "type": "quantitative", "axis": null}, "y2": {"field": "nHi"}}},
  {"transform": [{"filter": "datum.p == 1"}], "mark": {"type": "area", "color": "#0000ff", "opacity": 0.55},
   "encoding": {"x": {"field": "pt", "type": "quantitative", "axis": null}, "y": {"field": "cLo", "type": "quantitative", "axis": null}, "y2": {"field": "cHi"}}},
  {"transform": [{"filter": "datum.p == 1"}], "mark": {"type": "rule", "color": "#000080", "strokeWidth": 3, "strokeDash": [10, 8]},
   "encoding": {"x": {"field": "lo", "type": "quantitative", "axis": null}, "x2": {"field": "hi"}, "y": {"field": "rn", "type": "quantitative", "axis": null}}},
  {"transform": [{"filter": "datum.p == 1"}], "mark": {"type": "point", "shape": "triangle-down", "filled": true, "color": "#0000ff", "size": 700, "opacity": 1},
   "encoding": {"x": {"field": "pt", "type": "quantitative", "axis": null}, "y": {"field": "rc", "type": "quantitative", "axis": null}}},
  {"transform": [{"filter": "datum.p == 1"}], "mark": {"type": "point", "shape": "M0,-1L0.2245,-0.309L0.9511,-0.309L0.3633,0.118L0.5878,0.809L0,0.382L-0.5878,0.809L-0.3633,0.118L-0.9511,-0.309L-0.2245,-0.309Z", "filled": true, "color": "#ff0000", "size": 690, "opacity": 1},
   "encoding": {"x": {"field": "pt", "type": "quantitative", "axis": null}, "y": {"field": "rn", "type": "quantitative", "axis": null}}},
  {"data": {"values": [{"p": 1}]}, "mark": {"type": "text", "text": "Data/Theory", "fontSize": 44, "align": "right", "baseline": "alphabetic", "angle": -90},
   "encoding": {"x": {"datum": 6.57, "axis": null}, "y": {"datum": 1.5197, "axis": null}}},
  {"data": {"values": [{"p": 1}]}, "mark": {"type": "text", "text": "Systematics", "fontSize": 24, "fontWeight": "bold", "align": "right", "baseline": "alphabetic"},
   "encoding": {"x": {"datum": 246.57, "axis": null}, "y": {"datum": 1.1987, "axis": null}}},
  {"data": {"values": [{"p": 1}]}, "mark": {"type": "text", "text": "[GeV/c]", "fontSize": 46, "align": "right", "baseline": "alphabetic"},
   "encoding": {"x": {"datum": 300, "axis": null}, "y": {"datum": -0.7336, "axis": null}}},
  {"data": {"values": [{"p": 1}]}, "mark": {"type": "text", "text": "Jet p", "fontSize": 46, "align": "right", "baseline": "alphabetic"},
   "encoding": {"x": {"datum": 218.07, "axis": null}, "y": {"datum": -0.7336, "axis": null}}},
  {"data": {"values": [{"p": 1}]}, "mark": {"type": "text", "text": "T", "fontSize": 32, "align": "left", "baseline": "alphabetic"},
   "encoding": {"x": {"datum": 217.18, "axis": null}, "y": {"datum": -0.9301, "axis": null}}}
 ],
 "resolve": {"axis": {"x": "independent", "y": "independent"}}
},
{
 "data": {"name": "rat"},
 "layer": [
  {"data": {"name": "ref"}, "transform": [{"filter": "datum.p == 2"}], "mark": {"type": "area", "color": "#d6d6d6", "opacity": 1},
   "encoding": {
    "x": {"field": "pt", "type": "quantitative", "scale": {"domain": [60, 300], "range": [745, 1319], "nice": false, "zero": false},
          "axis": {"orient": "bottom", "offset": -137, "values": [70,80,90,100,110,120,130,140,150,160,170,180,190,200,210,220,230,240,250,260,270,280,290], "tickSize": {"condition": {"test": "datum.value % 50 == 0", "value": -9.5}, "value": -6}, "labelExpr": "datum.value % 50 == 0 ? datum.label : ''", "labelFontSize": 46, "labelBaseline": "top", "labelPadding": 16, "title": null}},
    "y": {"field": "lo", "type": "quantitative", "scale": {"domain": [0, 1.5], "range": [1058, 829], "nice": false, "zero": false},
          "axis": {"orient": "left", "offset": -745, "values": [0.1,0.2,0.3,0.4,0.5,0.6,0.7,0.8,0.9,1,1.1,1.2,1.3,1.4], "tickSize": {"condition": {"test": "abs(datum.value*2 - round(datum.value*2)) < 0.001", "value": -13}, "value": -7}, "labels": false, "title": null}},
    "y2": {"field": "hi"}
   }},
  {"data": {"name": "ref"}, "transform": [{"filter": "datum.p == 2"}], "mark": {"type": "line", "color": "black", "strokeWidth": 5, "strokeDash": [12, 9]},
   "encoding": {
    "x": {"field": "pt", "type": "quantitative", "axis": null},
    "y": {"field": "r", "type": "quantitative", "axis": {"orient": "right", "offset": -586, "values": [0.1,0.2,0.3,0.4,0.5,0.6,0.7,0.8,0.9,1,1.1,1.2,1.3,1.4], "tickSize": {"condition": {"test": "abs(datum.value*2 - round(datum.value*2)) < 0.001", "value": -13}, "value": -7}, "labels": false, "title": null}}
   }},
  {"transform": [{"filter": "datum.p == 2"}], "mark": {"type": "area", "color": "#ff0000", "opacity": 0.25},
   "encoding": {"x": {"field": "pt", "type": "quantitative", "axis": null}, "y": {"field": "nLo", "type": "quantitative", "axis": null}, "y2": {"field": "nHi"}}},
  {"transform": [{"filter": "datum.p == 2"}], "mark": {"type": "area", "color": "#0000ff", "opacity": 0.55},
   "encoding": {"x": {"field": "pt", "type": "quantitative", "axis": null}, "y": {"field": "cLo", "type": "quantitative", "axis": null}, "y2": {"field": "cHi"}}},
  {"transform": [{"filter": "datum.p == 2"}], "mark": {"type": "rule", "color": "#000080", "strokeWidth": 3, "strokeDash": [10, 8]},
   "encoding": {"x": {"field": "lo", "type": "quantitative", "axis": null}, "x2": {"field": "hi"}, "y": {"field": "rn", "type": "quantitative", "axis": null}}},
  {"transform": [{"filter": "datum.p == 2"}], "mark": {"type": "point", "shape": "triangle-down", "filled": true, "color": "#0000ff", "size": 700, "opacity": 1},
   "encoding": {"x": {"field": "pt", "type": "quantitative", "axis": null}, "y": {"field": "rc", "type": "quantitative", "axis": null}}},
  {"transform": [{"filter": "datum.p == 2"}], "mark": {"type": "point", "shape": "M0,-1L0.2245,-0.309L0.9511,-0.309L0.3633,0.118L0.5878,0.809L0,0.382L-0.5878,0.809L-0.3633,0.118L-0.9511,-0.309L-0.2245,-0.309Z", "filled": true, "color": "#ff0000", "size": 690, "opacity": 1},
   "encoding": {"x": {"field": "pt", "type": "quantitative", "axis": null}, "y": {"field": "rn", "type": "quantitative", "axis": null}}},
  {"data": {"values": [{"p": 2}]}, "mark": {"type": "rect", "color": "#ff0000", "opacity": 0.6},
   "encoding": {"x": {"datum": 135.5, "axis": null}, "x2": {"datum": 150.4}, "y": {"datum": 1.218, "axis": null}, "y2": {"datum": 1.31}}},
  {"data": {"values": [{"p": 2}]}, "mark": {"type": "text", "text": "NNPDF Systematics", "fontSize": 24, "fontWeight": "bold", "align": "left", "baseline": "alphabetic"},
   "encoding": {"x": {"datum": 156.33, "axis": null}, "y": {"datum": 1.1987, "axis": null}}},
  {"data": {"values": [{"p": 2}]}, "mark": {"type": "text", "text": "[GeV/c]", "fontSize": 46, "align": "right", "baseline": "alphabetic"},
   "encoding": {"x": {"datum": 300, "axis": null}, "y": {"datum": -0.7336, "axis": null}}},
  {"data": {"values": [{"p": 2}]}, "mark": {"type": "text", "text": "Jet p", "fontSize": 46, "align": "right", "baseline": "alphabetic"},
   "encoding": {"x": {"datum": 223.06, "axis": null}, "y": {"datum": -0.7336, "axis": null}}},
  {"data": {"values": [{"p": 2}]}, "mark": {"type": "text", "text": "T", "fontSize": 32, "align": "left", "baseline": "alphabetic"},
   "encoding": {"x": {"datum": 222.23, "axis": null}, "y": {"datum": -0.9301, "axis": null}}}
 ],
 "resolve": {"axis": {"x": "independent", "y": "independent"}}
},
{
 "data": {"name": "rat"},
 "layer": [
  {"data": {"name": "ref"}, "transform": [{"filter": "datum.p == 3"}], "mark": {"type": "area", "color": "#d6d6d6", "opacity": 1},
   "encoding": {
    "x": {"field": "pt", "type": "quantitative", "scale": {"domain": [60, 300], "range": [1319, 1890], "nice": false, "zero": false},
          "axis": {"orient": "bottom", "offset": -137, "values": [70,80,90,100,110,120,130,140,150,160,170,180,190,200,210,220,230,240,250,260,270,280,290], "tickSize": {"condition": {"test": "datum.value % 50 == 0", "value": -9.5}, "value": -6}, "labelExpr": "datum.value % 50 == 0 ? datum.label : ''", "labelFontSize": 46, "labelBaseline": "top", "labelPadding": 16, "title": null}},
    "y": {"field": "lo", "type": "quantitative", "scale": {"domain": [0, 1.5], "range": [1058, 829], "nice": false, "zero": false},
          "axis": {"orient": "left", "offset": -1319, "values": [0.1,0.2,0.3,0.4,0.5,0.6,0.7,0.8,0.9,1,1.1,1.2,1.3,1.4], "tickSize": {"condition": {"test": "abs(datum.value*2 - round(datum.value*2)) < 0.001", "value": -13}, "value": -7}, "labels": false, "title": null}},
    "y2": {"field": "hi"}
   }},
  {"data": {"name": "ref"}, "transform": [{"filter": "datum.p == 3"}], "mark": {"type": "line", "color": "black", "strokeWidth": 5, "strokeDash": [12, 9]},
   "encoding": {
    "x": {"field": "pt", "type": "quantitative", "axis": null},
    "y": {"field": "r", "type": "quantitative", "axis": {"orient": "right", "offset": -15, "values": [0.1,0.2,0.3,0.4,0.5,0.6,0.7,0.8,0.9,1,1.1,1.2,1.3,1.4], "tickSize": {"condition": {"test": "abs(datum.value*2 - round(datum.value*2)) < 0.001", "value": -13}, "value": -7}, "labels": false, "title": null}}
   }},
  {"transform": [{"filter": "datum.p == 3"}], "mark": {"type": "area", "color": "#ff0000", "opacity": 0.25},
   "encoding": {"x": {"field": "pt", "type": "quantitative", "axis": null}, "y": {"field": "nLo", "type": "quantitative", "axis": null}, "y2": {"field": "nHi"}}},
  {"transform": [{"filter": "datum.p == 3"}], "mark": {"type": "area", "color": "#0000ff", "opacity": 0.55},
   "encoding": {"x": {"field": "pt", "type": "quantitative", "axis": null}, "y": {"field": "cLo", "type": "quantitative", "axis": null}, "y2": {"field": "cHi"}}},
  {"transform": [{"filter": "datum.p == 3"}], "mark": {"type": "rule", "color": "#000080", "strokeWidth": 3, "strokeDash": [10, 8]},
   "encoding": {"x": {"field": "lo", "type": "quantitative", "axis": null}, "x2": {"field": "hi"}, "y": {"field": "rn", "type": "quantitative", "axis": null}}},
  {"transform": [{"filter": "datum.p == 3"}], "mark": {"type": "point", "shape": "triangle-down", "filled": true, "color": "#0000ff", "size": 700, "opacity": 1},
   "encoding": {"x": {"field": "pt", "type": "quantitative", "axis": null}, "y": {"field": "rc", "type": "quantitative", "axis": null}}},
  {"transform": [{"filter": "datum.p == 3"}], "mark": {"type": "point", "shape": "M0,-1L0.2245,-0.309L0.9511,-0.309L0.3633,0.118L0.5878,0.809L0,0.382L-0.5878,0.809L-0.3633,0.118L-0.9511,-0.309L-0.2245,-0.309Z", "filled": true, "color": "#ff0000", "size": 690, "opacity": 1},
   "encoding": {"x": {"field": "pt", "type": "quantitative", "axis": null}, "y": {"field": "rn", "type": "quantitative", "axis": null}}},
  {"data": {"values": [{"p": 3}]}, "mark": {"type": "rect", "color": "#0000ff", "opacity": 0.55},
   "encoding": {"x": {"datum": 135.19, "axis": null}, "x2": {"datum": 150.37}, "y": {"datum": 1.218, "axis": null}, "y2": {"datum": 1.31}}},
  {"data": {"values": [{"p": 3}]}, "mark": {"type": "text", "text": "CT10n Systematics", "fontSize": 24, "fontWeight": "bold", "align": "left", "baseline": "alphabetic"},
   "encoding": {"x": {"datum": 156.25, "axis": null}, "y": {"datum": 1.1987, "axis": null}}},
  {"data": {"values": [{"p": 3}]}, "mark": {"type": "text", "text": "[GeV/c]", "fontSize": 46, "align": "right", "baseline": "alphabetic"},
   "encoding": {"x": {"datum": 300, "axis": null}, "y": {"datum": -0.7336, "axis": null}}},
  {"data": {"values": [{"p": 3}]}, "mark": {"type": "text", "text": "Jet p", "fontSize": 46, "align": "right", "baseline": "alphabetic"},
   "encoding": {"x": {"datum": 222.66, "axis": null}, "y": {"datum": -0.7336, "axis": null}}},
  {"data": {"values": [{"p": 3}]}, "mark": {"type": "text", "text": "T", "fontSize": 32, "align": "left", "baseline": "alphabetic"},
   "encoding": {"x": {"datum": 221.82, "axis": null}, "y": {"datum": -0.9301, "axis": null}}},
  {"data": {"values": [{"p": 3}]}, "mark": {"type": "rule", "color": "white", "strokeWidth": 243, "strokeCap": "butt"},
   "encoding": {"x": {"datum": -663.4, "axis": null}, "x2": {"datum": 103.2}, "y": {"datum": -1.4895, "axis": null}, "y2": {"datum": 5.408}}},
  {"data": {"values": [{"p": 3}]}, "mark": {"type": "text", "text": "Compare with AA (pA)", "fontSize": 188, "fontWeight": "bold", "align": "left", "baseline": "alphabetic", "angle": -30},
   "encoding": {"x": {"datum": -605.0, "axis": null}, "y": {"datum": -1.5577, "axis": null}}}
 ],
 "resolve": {"axis": {"x": "independent", "y": "independent"}}
}
],
"resolve": {"scale": {"x": "independent", "y": "independent"}, "axis": {"x": "independent", "y": "independent"}}
}
